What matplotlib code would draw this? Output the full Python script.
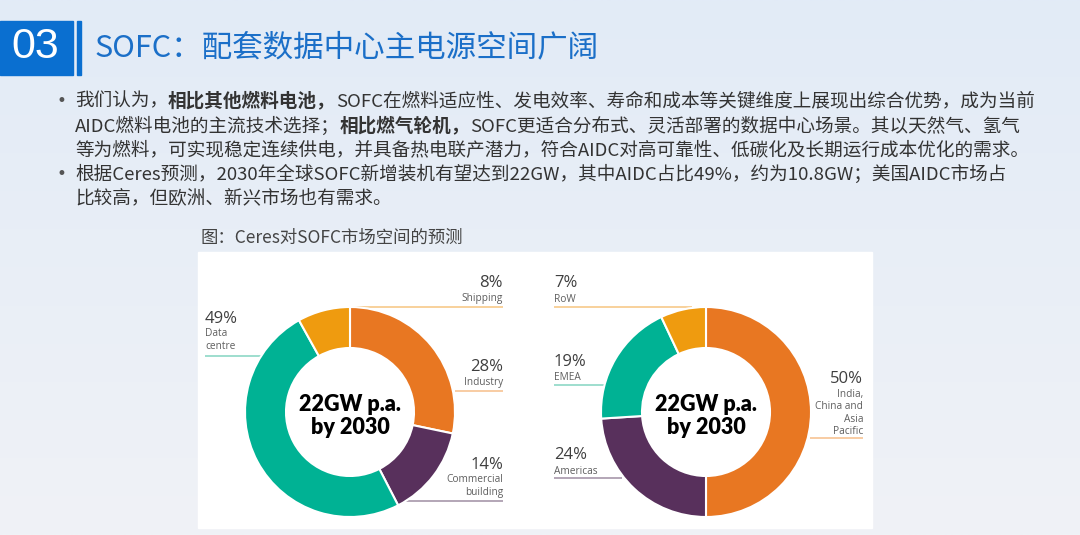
import matplotlib
matplotlib.use('Agg')
import matplotlib.pyplot as plt
import numpy as np
from matplotlib.patches import Rectangle

# ---------------- data ----------------
header_num = "03"
title_text = "SOFC：配套数据中心主电源空间广阔"
caption_text = "图：Ceres对SOFC市场空间的预测"
center_text = "22GW p.a.\nby 2030"

# bullet lines: list of (text, bold) runs
bullet_lines = [
    [("我们认为，", False), ("相比其他燃料电池，", True),
     ("SOFC在燃料适应性、发电效率、寿命和成本等关键维度上展现出综合优势，成为当前", False)],
    [("AIDC燃料电池的主流技术选择；", False), ("相比燃气轮机，", True),
     ("SOFC更适合分布式、灵活部署的数据中心场景。其以天然气、氢气", False)],
    [("等为燃料，可实现稳定连续供电，并具备热电联产潜力，符合AIDC对高可靠性、低碳化及长期运行成本优化的需求。", False)],
    [("根据Ceres预测，2030年全球SOFC新增装机有望达到22GW，其中AIDC占比49%，约为10.8GW；美国AIDC市场占", False)],
    [("比较高，但欧洲、新兴市场也有需求。", False)],
]
bullet_starts = [True, False, False, True, False]

app_labels = ["Industry", "Commercial\nbuilding", "Data\ncentre", "Shipping"]
app_values = [28, 14, 49, 8]
reg_labels = ["India,\nChina and\nAsia\nPacific", "Americas", "EMEA", "RoW"]
reg_values = [50, 24, 19, 7]
slice_colors = ["#E87722", "#58305C", "#00B294", "#EF9B0F"]
line_colors = ["#F7C393", "#A797AA", "#8ED8C6", "#F7C98A"]

# ---------------- figure ----------------
W, H = 1080, 535
CJK = ['Noto Sans CJK SC', 'DejaVu Sans']
LAT = ['Open Sans', 'DejaVu Sans']
BOLD = ['Lato', 'DejaVu Sans']

fig = plt.figure(figsize=(W / 100, H / 100), dpi=100)
ax = fig.add_axes([0, 0, 1, 1])


def Y(y):
    return H - y


# background gradient
top = np.array([0xE2, 0xEB, 0xF7]) / 255
bot = np.array([0xF0, 0xF2, 0xF6]) / 255
t = np.linspace(0, 1, 200)[:, None]
grad = top * (1 - t) + bot * t
grad = np.repeat(grad[:, None, :], 2, axis=1)
ax.imshow(grad, extent=(0, W, 0, H), aspect='auto', zorder=0, interpolation='bilinear')

# header
ax.add_patch(Rectangle((0, Y(75)), 73, 54, color="#0A6FD0", zorder=2))
ax.add_patch(Rectangle((77, Y(75)), 4, 54, color="#0A6FD0", zorder=2))
ax.text(35, Y(47), header_num, color='white', fontsize=31, family=['Liberation Sans'],
        ha='center', va='center', zorder=3)
ax.text(95, Y(48), title_text, color="#1B6FC8", fontsize=22, family=CJK,
        fontweight='medium', ha='left', va='center', zorder=3)

# bullets
renderer = fig.canvas.get_renderer()
line_y = [101, 126, 150, 174, 198]
fs = 13.4
for runs, yy, b in zip(bullet_lines, line_y, bullet_starts):
    if b:
        ax.text(61, Y(yy), "•", fontsize=12, color="#555555", family=['DejaVu Sans'],
                ha='center', va='center', zorder=3)
    x = 75
    for txt, bold in runs:
        tt = ax.text(x, Y(yy), txt, fontsize=fs, color="#333333", family=CJK,
                     fontweight='bold' if bold else 'normal', ha='left', va='center', zorder=3)
        bb = tt.get_window_extent(renderer)
        x = ax.transData.inverted().transform((bb.x1, bb.y0))[0]

# caption
ax.text(201, Y(238), caption_text, fontsize=12.5, color="#444444", family=CJK,
        ha='left', va='center', zorder=3)

# white panel
ax.add_patch(Rectangle((198, Y(528)), 674, 276, color="white", zorder=1))

# donuts
donuts = [
    (app_values, (350, 412)),
    (reg_values, (706, 412)),
]
for vals, (cx, cy) in donuts:
    ax.pie(vals, colors=slice_colors, startangle=90, counterclock=False,
           radius=105, center=(cx, Y(cy)), frame=True,
           wedgeprops=dict(width=41, edgecolor='white', linewidth=1.5, zorder=4))
    ax.text(cx, Y(cy + 4), center_text, ha='center', va='center', fontsize=15.5,
            fontweight='heavy', family=BOLD, color='black', linespacing=1.1, zorder=5)

# labels: (value, label, color idx, x, pct_y, label_y, line_y, line_x0, line_x1, align)
label_specs = [
    (app_values[0], app_labels[0], 0, 503, 367, 383, 391, 455, 503, 'right'),
    (app_values[1], app_labels[1], 1, 503, 465, 486, 501, 398, 503, 'right'),
    (app_values[2], app_labels[2], 2, 205, 319, 340, 356, 205, 262, 'left'),
    (app_values[3], app_labels[3], 3, 503, 283, 299, 307, 350, 503, 'right'),
    (reg_values[0], reg_labels[0], 0, 863, 379, 413, 438, 810, 863, 'right'),
    (reg_values[1], reg_labels[1], 1, 554, 455, 471, 478, 554, 622, 'left'),
    (reg_values[2], reg_labels[2], 2, 554, 362, 377, 385, 554, 605, 'left'),
    (reg_values[3], reg_labels[3], 3, 554, 283, 300, 307, 554, 692, 'left'),
]
for v, lab, ci, x, py, ly, lny, x0, x1, al in label_specs:
    ax.text(x, Y(py), f"{v}%", ha=al, va='center', fontsize=12, family=LAT,
            fontweight='normal', color="#3F3F3F", zorder=5)
    ax.text(x, Y(ly), lab, ha=al, va='center', fontsize=7.3, family=LAT,
            fontweight='normal', color="#5E5E5E", linespacing=1.15, zorder=5)
    ax.plot([x0, x1], [Y(lny), Y(lny)], color=line_colors[ci], lw=1.2, zorder=3,
            solid_capstyle='butt')

ax.set_xlim(0, W)
ax.set_ylim(0, H)
ax.set_aspect('auto')
ax.axis('off')

fig.savefig("out.png", dpi=100)
